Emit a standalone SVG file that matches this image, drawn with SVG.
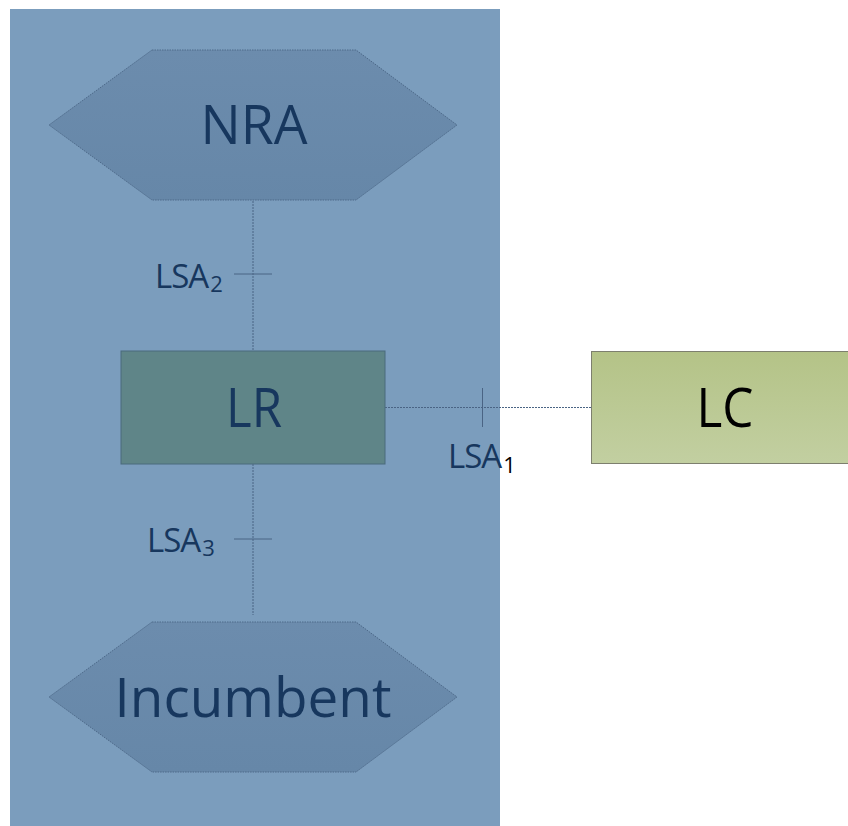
<svg xmlns="http://www.w3.org/2000/svg" width="848" height="826" viewBox="0 0 848 826">
<defs>
<linearGradient id="lcg" x1="0" y1="0" x2="0" y2="1"><stop offset="0" stop-color="#B4C387"/><stop offset="1" stop-color="#C2CFA1"/></linearGradient>
<linearGradient id="hexg" x1="0" y1="0" x2="0" y2="1"><stop offset="0" stop-color="#6C8CAD"/><stop offset="1" stop-color="#6687A8"/></linearGradient>
</defs>
<style>
.big{font-family:"Open Sans","Liberation Sans",sans-serif;font-size:55px;fill:#17375E;text-anchor:middle}
.lbl{font-family:"Open Sans","Liberation Sans",sans-serif;font-size:33px;fill:#17375E;letter-spacing:-1px}
.sub{font-size:22px;letter-spacing:0}
.hex{fill:url(#hexg);stroke:#4E6A8A;stroke-width:1;stroke-dasharray:1.5 1}
.conn{stroke:#4A6484;stroke-width:1;stroke-dasharray:2 1;fill:none}
.tick{stroke:#4A6484;stroke-width:1;fill:none}
</style>
<rect x="10" y="9" width="490" height="817" fill="#7B9DBD"/>
<g id="connectors">
<line class="conn" x1="253" y1="201" x2="253" y2="351"/>
<line class="conn" x1="253" y1="464" x2="253" y2="615"/>
<line class="conn" x1="385" y1="407.5" x2="591" y2="407.5" stroke="#3c4c5c"/>
<line class="tick" x1="234" y1="274" x2="272" y2="274"/>
<line class="tick" x1="234" y1="539" x2="272" y2="539"/>
<line class="tick" x1="482.5" y1="388" x2="482.5" y2="427"/>
<text class="lbl" x="155" y="288">LSA<tspan class="sub" dx="2" dy="4">2</tspan></text>
<text class="lbl" x="147" y="552">LSA<tspan class="sub" dx="2" dy="4">3</tspan></text>
<text class="lbl" x="448" y="468">LSA<tspan class="sub" dx="2" dy="5" style="fill:#000">1</tspan></text>
</g>
<g id="nra">
<polygon class="hex" points="152,50 356,50 457,125 356,200 152,200 49,125"/>
<text class="big" x="254" y="144" textLength="107" lengthAdjust="spacingAndGlyphs">NRA</text>
</g>
<g id="lr">
<rect x="121" y="351" width="264" height="113" fill="#5F8588" stroke="#4A6A7C" stroke-width="1"/>
<text class="big" x="254" y="427" textLength="56" lengthAdjust="spacingAndGlyphs">LR</text>
</g>
<g id="lc">
<rect x="591.5" y="351.5" width="270" height="112" fill="url(#lcg)" stroke="#7D7F6E" stroke-width="1"/>
<text class="big" x="725" y="427" style="fill:#000" textLength="57" lengthAdjust="spacingAndGlyphs">LC</text>
</g>
<g id="incumbent">
<polygon class="hex" points="152,622 356,622 457,697 356,772 152,772 49,697"/>
<text class="big" x="253" y="717" textLength="277" lengthAdjust="spacingAndGlyphs">Incumbent</text>
</g>
</svg>
